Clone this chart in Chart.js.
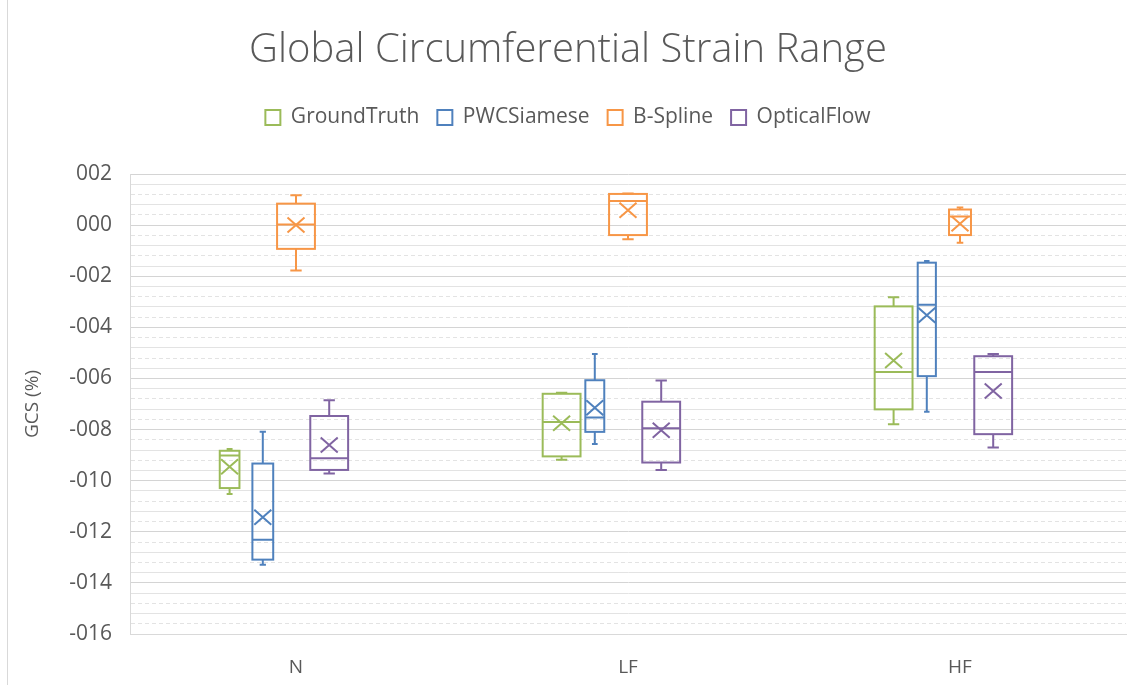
<!DOCTYPE html>
<html>
<head>
<meta charset="utf-8">
<title>Global Circumferential Strain Range</title>
<script src="https://cdn.jsdelivr.net/npm/chart.js@4.4.0/dist/chart.umd.min.js"></script>
<style>
  body { margin: 0; background: #fff; }
  #wrap { position: relative; width: 1130px; height: 685px; }
  #wrap:before { content: ''; position: absolute; left: 7px; top: 0; bottom: 0; border-left: 1px solid #d9d9d9; }
</style>
</head>
<body>
<div id="wrap"><canvas id="gcsChart"></canvas></div>
<script>
const groups = ['N', 'LF', 'HF'];
const seriesNames = ['GroundTruth', 'PWCSiamese', 'B-Spline', 'OpticalFlow'];
const yTicks = [2, 0, -2, -4, -6, -8, -10, -12, -14, -16];

// each row: min, q1, median, q3, max, mean  (rows are N, LF, HF)
const groundTruth = [
    [-10.52, -10.29, -9.02, -8.83, -8.76, -9.46],
    [-9.18, -9.05, -7.70, -6.60, -6.56, -7.75],
    [-7.79, -7.21, -5.75, -3.18, -2.82, -5.30]
];
const pwcSiamese = [
    [-13.29, -13.09, -12.31, -9.33, -8.09, -11.43],
    [-8.57, -8.09, -7.53, -6.07, -5.04, -7.15],
    [-7.30, -5.91, -3.12, -1.47, -1.40, -3.53]
];
const bSpline = [
    [-1.78, -0.93, 0.02, 0.84, 1.17, 0.00],
    [-0.55, -0.39, 0.94, 1.22, 1.24, 0.58],
    [-0.69, -0.39, 0.34, 0.61, 0.69, 0.05]
];
const opticalFlow = [
    [-9.72, -9.58, -9.12, -7.47, -6.85, -8.60],
    [-9.58, -9.29, -7.95, -6.91, -6.08, -8.03],
    [-8.70, -8.18, -5.75, -5.13, -5.04, -6.49]
];

const allBoxes = [groundTruth, pwcSiamese, bSpline, opticalFlow];
const colors = ['#9bbb59', '#4f81bd', '#f79646', '#8064a2'];
// relative box widths per group/series (some boxes are drawn half width)
const widthScale = [
    [0.52, 0.55, 1, 1],
    [1, 0.5, 1, 1],
    [1, 0.48, 0.58, 1]
];

const FONT = "'Open Sans', 'DejaVu Sans', sans-serif";
const TEXT = '#595959';

function isMajor(v) {
    return Math.abs(v / 2 - Math.round(v / 2)) < 1e-6;
}

function fmtTick(v) {
    const n = Math.round(v);
    const s = String(Math.abs(n)).padStart(3, '0');
    return n < 0 ? '-' + s : s;
}

// extra space between the legend and the plot area
const legendGap = {
    id: 'legendGap',
    beforeInit(chart) {
        const fit = chart.legend.fit;
        chart.legend.fit = function () {
            fit.bind(chart.legend)();
            this.height += 36;
        };
    }
};

// draws boxes, whiskers, median and mean marker with the chart scales
const boxPlotDraw = {
    id: 'boxPlotDraw',
    beforeDatasetDraw() {
        return false;
    },
    afterDatasetsDraw(chart) {
        const { ctx, scales: { x, y } } = chart;
        const band = x.width / groups.length;
        ctx.save();
        ctx.lineWidth = 2;
        allBoxes.forEach((rows, j) => {
            if (!chart.isDatasetVisible(j)) return;
            ctx.strokeStyle = colors[j];
            rows.forEach((r, i) => {
                const [mn, q1, med, q3, mx, mean] = r;
                const cx = x.getPixelForValue(i) + (j - 2) * band * 0.1;
                const half = band * 0.057 * widthScale[i][j];
                const cap = half * 0.3;
                const yMin = y.getPixelForValue(mn), yQ1 = y.getPixelForValue(q1);
                const yMed = y.getPixelForValue(med), yQ3 = y.getPixelForValue(q3);
                const yMax = y.getPixelForValue(mx), yMean = y.getPixelForValue(mean);

                ctx.beginPath();
                // whiskers
                ctx.moveTo(cx, yQ3); ctx.lineTo(cx, yMax);
                ctx.moveTo(cx - cap, yMax); ctx.lineTo(cx + cap, yMax);
                ctx.moveTo(cx, yQ1); ctx.lineTo(cx, yMin);
                ctx.moveTo(cx - cap, yMin); ctx.lineTo(cx + cap, yMin);
                // median
                ctx.moveTo(cx - half, yMed); ctx.lineTo(cx + half, yMed);
                ctx.stroke();

                ctx.strokeRect(cx - half, yQ3, half * 2, yQ1 - yQ3);

                // mean marker
                const mx2 = 8.5, my2 = 7.5;
                ctx.beginPath();
                ctx.moveTo(cx - mx2, yMean - my2); ctx.lineTo(cx + mx2, yMean + my2);
                ctx.moveTo(cx + mx2, yMean - my2); ctx.lineTo(cx - mx2, yMean + my2);
                ctx.stroke();
            });
        });
        ctx.restore();
    }
};

const datasets = seriesNames.map((name, j) => ({
    label: name,
    data: allBoxes[j].map(r => [r[1], r[3]]),
    backgroundColor: '#ffffff',
    borderColor: colors[j],
    borderWidth: 2
}));

const ctx = document.getElementById('gcsChart').getContext('2d');
const gcsChart = new Chart(ctx, {
    type: 'bar',
    data: { labels: groups, datasets: datasets },
    plugins: [legendGap, boxPlotDraw],
    options: {
        responsive: true,
        maintainAspectRatio: false,
        animation: false,
        layout: { padding: { top: 6, left: 10, right: 4, bottom: 6 } },
        plugins: {
            title: {
                display: true,
                text: 'Global Circumferential Strain Range',
                color: TEXT,
                font: { family: FONT, size: 40, weight: '300' },
                padding: { top: 21, bottom: 14 }
            },
            legend: {
                position: 'top',
                labels: {
                    color: TEXT,
                    font: { family: FONT, size: 21 },
                    boxWidth: 15,
                    boxHeight: 15,
                    padding: 18
                }
            },
            tooltip: { enabled: false }
        },
        scales: {
            x: {
                grid: { display: false, drawTicks: false },
                border: { color: '#d9d9d9', width: 1 },
                ticks: { color: TEXT, font: { family: FONT, size: 19 }, padding: 22 },
                afterFit(scale) { scale.height = 45; }
            },
            y: {
                min: yTicks[yTicks.length - 1],
                max: yTicks[0],
                title: {
                    display: true,
                    text: 'GCS (%)',
                    color: TEXT,
                    font: { family: FONT, size: 19 },
                    padding: { top: 11, bottom: 0 }
                },
                ticks: {
                    stepSize: 0.4,
                    autoSkip: false,
                    color: TEXT,
                    font: { family: FONT, size: 21 },
                    padding: 18,
                    callback: v => isMajor(v) ? fmtTick(v) : ''
                },
                grid: {
                    drawTicks: false,
                    color: c => (c.tick && isMajor(c.tick.value)) ? '#d4d4d4' : '#e3e3e3',
                    lineWidth: 1
                },
                border: {
                    color: '#d9d9d9',
                    dash: c => {
                        if (!c.tick || isMajor(c.tick.value)) return [];
                        return c.index % 2 ? [4, 3] : [];
                    }
                },
                afterFit(scale) { scale.width = 120; }
            }
        }
    }
});
</script>
</body>
</html>
